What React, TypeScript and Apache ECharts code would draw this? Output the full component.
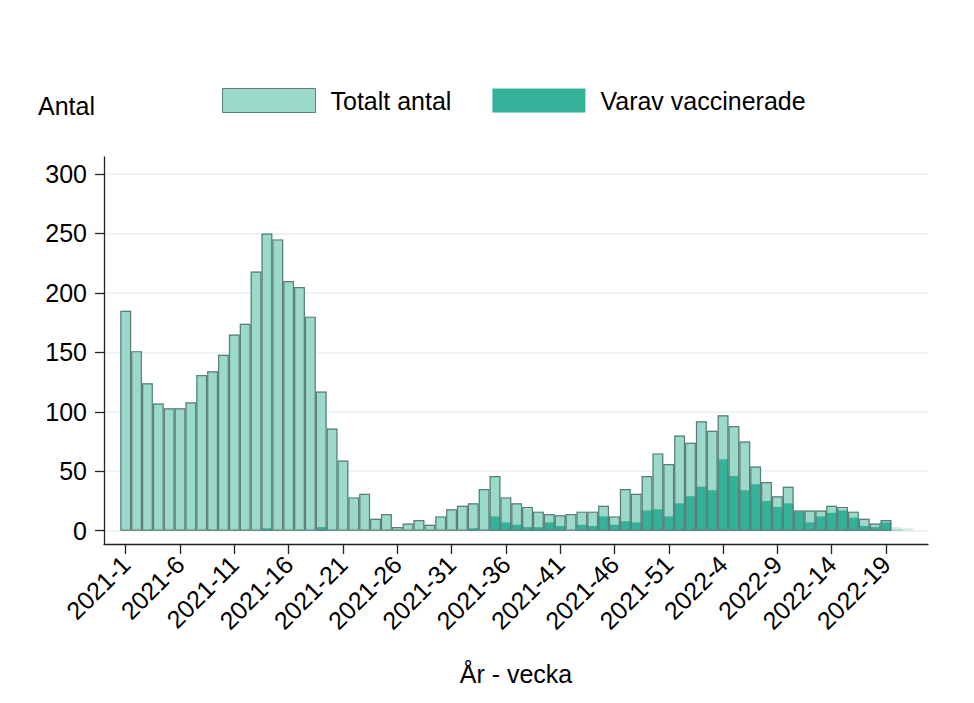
import { useEffect, useRef } from "react";
import * as echarts from "echarts";

const weeks = [
  "2021-1", "2021-2", "2021-3", "2021-4", "2021-5", "2021-6", "2021-7", "2021-8", "2021-9", "2021-10",
  "2021-11", "2021-12", "2021-13", "2021-14", "2021-15", "2021-16", "2021-17", "2021-18", "2021-19", "2021-20",
  "2021-21", "2021-22", "2021-23", "2021-24", "2021-25", "2021-26", "2021-27", "2021-28", "2021-29", "2021-30",
  "2021-31", "2021-32", "2021-33", "2021-34", "2021-35", "2021-36", "2021-37", "2021-38", "2021-39", "2021-40",
  "2021-41", "2021-42", "2021-43", "2021-44", "2021-45", "2021-46", "2021-47", "2021-48", "2021-49", "2021-50",
  "2021-51", "2021-52", "2022-1", "2022-2", "2022-3", "2022-4", "2022-5", "2022-6", "2022-7", "2022-8",
  "2022-9", "2022-10", "2022-11", "2022-12", "2022-13", "2022-14", "2022-15", "2022-16", "2022-17", "2022-18",
  "2022-19", "2022-20", "2022-21",
];

const totaltAntal = [
  185, 151, 124, 107, 103, 103, 108, 131, 134, 148,
  165, 174, 218, 250, 245, 210, 205, 180, 117, 86,
  59, 28, 31, 10, 14, 3, 6, 9, 5, 12,
  18, 21, 23, 35, 46, 28, 23, 20, 16, 14,
  13, 14, 16, 16, 21, 12, 35, 31, 46, 65,
  56, 80, 74, 92, 84, 97, 88, 75, 54, 41,
  29, 37, 17, 17, 17, 21, 20, 16, 10, 6,
  9, 3, 2,
];

const varavVaccinerade = [
  0, 0, 0, 0, 0, 0, 0, 0, 0, 0,
  0, 0, 0, 2, 0, 0, 0, 0, 3, 0,
  0, 0, 0, 0, 0, 0, 0, 0, 0, 0,
  0, 0, 2, 0, 12, 7, 5, 3, 3, 7,
  4, 0, 5, 4, 12, 5, 8, 7, 17, 18,
  12, 23, 29, 37, 34, 60, 46, 34, 39, 25,
  20, 23, 16, 7, 12, 15, 17, 11, 4, 3,
  7, 1, 0,
];

// weeks with preliminary (faded) data
const preliminaryWeeks = ["2022-20", "2022-21"];

const xTickWeeks = [
  "2021-1", "2021-6", "2021-11", "2021-16", "2021-21", "2021-26", "2021-31", "2021-36",
  "2021-41", "2021-46", "2021-51", "2022-4", "2022-9", "2022-14", "2022-19",
];
const yTicks = [0, 50, 100, 150, 200, 250, 300];

const LIGHT = "#9bd9ca";
const DARK = "#34b199";
const BORDER = "#5d7d76";
const FONT = "'Liberation Sans', Arial, sans-serif";
const FS = 25;

export default function App() {
  const ref = useRef<HTMLDivElement>(null);
  useEffect(() => {
    const chart = echarts.init(ref.current!, null, { renderer: "svg" });
    const xTicks = xTickWeeks.map((w) => weeks.indexOf(w));
    const isPrelim = (w: string) => preliminaryWeeks.includes(w);

    const lightData = weeks.map((w, i) => ({
      value: [i, totaltAntal[i]],
      itemStyle: isPrelim(w) ? { opacity: 0.45 } : undefined,
    }));
    const darkData = weeks.map((w, i) => ({
      value: [i, varavVaccinerade[i]],
      itemStyle: isPrelim(w) ? { opacity: 0.45 } : undefined,
    }));
    const outlineData = weeks.map((w, i) => ({
      value: [i, totaltAntal[i]],
      itemStyle: isPrelim(w) ? { borderWidth: 0 } : undefined,
    }));

    const axisLine = { show: true, onZero: false, lineStyle: { color: "#222", width: 1.3 } };
    const barCommon = {
      type: "bar" as const,
      barWidth: 10.86,
      barGap: "-100%",
    };

    chart.setOption({
      animation: false,
      textStyle: { fontFamily: FONT },
      title: {
        text: "Antal",
        left: 38,
        top: 93,
        padding: 0,
        textStyle: { fontSize: FS, fontWeight: "normal", color: "#000", fontFamily: FONT },
      },
      legend: {
        left: 222,
        top: 88,
        padding: 0,
        itemWidth: 93,
        itemHeight: 24,
        itemGap: 41,
        selectedMode: false,
        textStyle: { fontSize: FS, color: "#000", fontFamily: FONT, padding: [0, 0, 0, 10] },
        data: [
          { name: "Totalt antal", icon: "rect", itemStyle: { color: LIGHT, borderColor: BORDER, borderWidth: 1 } },
          { name: "Varav vaccinerade", icon: "rect", itemStyle: { color: DARK, borderWidth: 0 } },
        ],
      },
      grid: { left: 104, right: 46, top: 157, bottom: 159 },
      xAxis: {
        type: "value",
        min: -2,
        max: 73.87,
        axisLine,
        axisTick: { show: true, length: 10, customValues: xTicks, lineStyle: { color: "#222", width: 1.3 } },
        axisLabel: {
          customValues: xTicks,
          formatter: (v: number) => weeks[Math.round(v)] ?? "",
          rotate: 45,
          fontSize: FS,
          color: "#000",
          margin: 16,
          fontFamily: FONT,
        },
        splitLine: { show: false },
        name: "År - vecka",
        nameLocation: "middle",
        nameGap: 117,
        nameTextStyle: { fontSize: FS, color: "#000", fontFamily: FONT },
      },
      yAxis: {
        type: "value",
        min: -11.2,
        max: 314.3,
        axisLine,
        axisTick: { show: true, length: 9, customValues: yTicks, lineStyle: { color: "#222", width: 1.3 } },
        axisLabel: { customValues: yTicks, fontSize: FS, color: "#000", margin: 17, fontFamily: FONT },
        splitLine: { show: true, lineStyle: { color: "#e8f0f3", width: 1.6 } },
      },
      series: [
        {
          ...barCommon,
          name: "Totalt antal",
          data: lightData,
          itemStyle: { color: LIGHT, borderWidth: 0 },
        },
        {
          ...barCommon,
          name: "Varav vaccinerade",
          data: darkData,
          itemStyle: { color: DARK, borderWidth: 0 },
        },
        {
          ...barCommon,
          name: "outline",
          data: outlineData,
          silent: true,
          itemStyle: { color: "rgba(0,0,0,0)", borderColor: BORDER, borderWidth: 1.2 },
        },
      ],
    });
    return () => chart.dispose();
  }, []);
  return (
    <div
      ref={ref}
      style={{ position: "fixed", left: 0, top: 0, width: 974, height: 703, background: "#fff" }}
    />
  );
}
